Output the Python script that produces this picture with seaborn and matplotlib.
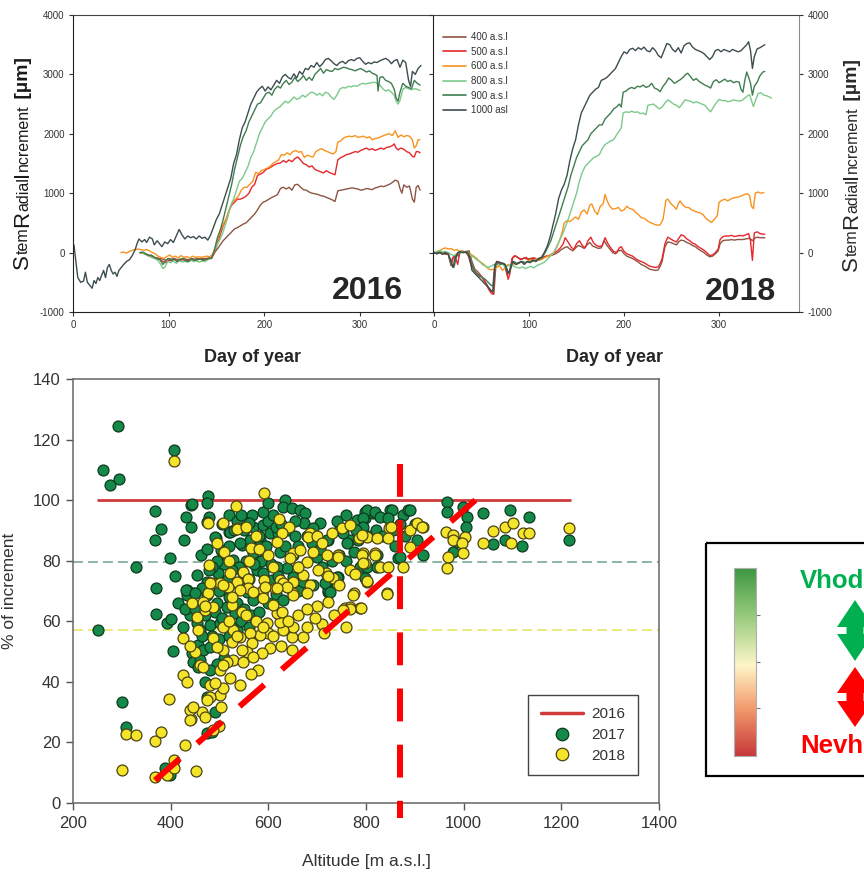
import numpy as np
import pandas as pd
import matplotlib
matplotlib.use("Agg")
import matplotlib.pyplot as plt
import seaborn as sns
from matplotlib.lines import Line2D
from matplotlib.patches import Polygon, Rectangle
from matplotlib.colors import LinearSegmentedColormap

# ---------------------------------------------------------------- data
sites = ["400 a.s.l", "500 a.s.l", "600 a.s.l", "800 a.s.l", "900 a.s.l", "1000 asl"]
site_colors = ["#8c5543", "#e8262b", "#f7931e", "#7cc98a", "#3f7d50", "#3d4d4f"]

# stem radial increment (um) by day of year, 2016
s16_1000 = [(0,50),(1,130),(3,-150),(5,-420),(8,-500),(11,-480),(13,-330),(15,-500),(18,-560),(20,-600),(22,-470),(24,-520),(26,-420),(28,-470),(30,-380),(32,-300),(34,-420),(36,-250),(38,-200),(40,-300),(42,-360),(44,-330),(46,-400),(48,-300),(50,-260),(53,-200),(56,-150),(59,-120),(62,-50),(65,50),(67,150),(69,230),(72,180),(75,220),(77,170),(80,260),(83,230),(85,130),(88,200),(90,160),(93,100),(96,180),(99,150),(102,220),(105,170),(108,280),(111,390),(114,300),(117,230),(120,280),(123,250),(126,270),(129,230),(132,280),(135,240),(138,260),(141,210),(144,300),(147,430),(150,560),(153,650),(156,800),(159,950),(162,1100),(165,1250),(168,1500),(171,1650),(174,1900),(177,2100),(180,2200),(183,2350),(186,2500),(189,2600),(192,2700),(195,2760),(198,2800),(201,2720),(204,2790),(207,2740),(210,2820),(213,2900),(216,2850),(219,2960),(222,3000),(225,2950),(228,2920),(231,3010),(234,2940),(237,3050),(240,3000),(243,3100),(246,3080),(249,3150),(252,3120),(255,3200),(258,3130),(261,3180),(264,3250),(267,3270),(270,3230),(273,3180),(276,3150),(279,3200),(282,3220),(285,3180),(288,3230),(291,3250),(294,3230),(297,3270),(300,3280),(303,3220),(306,3170),(309,3200),(312,3180),(315,3210),(318,3200),(321,3230),(324,3250),(327,3270),(330,3240),(333,3180),(336,3230),(339,3250),(342,3120),(345,3240),(348,3200),(351,2900),(353,2800),(355,3050),(358,3000),(361,3100),(364,3150)]
s16_900 = [(70,0),(73,10),(76,-20),(79,-50),(82,-40),(85,-80),(88,-100),(91,-120),(94,-200),(97,-130),(100,-100),(103,-130),(106,-110),(109,-150),(112,-120),(115,-100),(118,-140),(121,-150),(124,-100),(127,-130),(130,-120),(133,-110),(136,-130),(139,-120),(142,-100),(145,-90),(148,50),(151,250),(154,380),(157,550),(160,750),(163,950),(166,1150),(169,1400),(172,1600),(175,1800),(178,1950),(181,2050),(184,2200),(187,2300),(190,2400),(193,2500),(196,2520),(199,2600),(202,2680),(205,2700),(208,2650),(211,2750),(214,2800),(217,2770),(220,2850),(223,2900),(226,2830),(229,2870),(232,2950),(235,2880),(238,2920),(241,2980),(244,2900),(247,2950),(250,2900),(253,3000),(256,3050),(259,3100),(262,3020),(265,3080),(268,3060),(271,3050),(274,3100),(277,3080),(280,3100),(283,3120),(286,3110),(289,3090),(292,3080),(295,3060),(298,3080),(301,3100),(304,3070),(307,3040),(310,3060),(313,3020),(316,3000),(318,2980),(319,2720),(321,2950),(324,2960),(327,2900),(330,2880),(333,2850),(336,2750),(338,2600),(340,2550),(342,2700),(345,2850),(348,2800),(351,2780),(354,2760),(357,2900),(360,2850),(363,2820)]
s16_800 = [(70,0),(73,-10),(76,-30),(79,-60),(82,-80),(85,-100),(88,-120),(91,-180),(94,-270),(96,-250),(99,-150),(102,-170),(105,-140),(108,-180),(111,-130),(114,-160),(117,-150),(120,-160),(123,-130),(126,-150),(129,-140),(132,-160),(135,-140),(138,-150),(141,-120),(144,-100),(147,0),(150,100),(153,200),(156,300),(159,450),(162,600),(165,800),(168,900),(171,1050),(174,1200),(177,1250),(180,1350),(183,1450),(186,1600),(189,1700),(192,1850),(195,2000),(198,2100),(201,2200),(204,2250),(207,2300),(210,2380),(213,2420),(216,2450),(219,2500),(222,2550),(225,2520),(228,2560),(231,2620),(234,2580),(237,2600),(240,2650),(243,2620),(246,2660),(249,2700),(252,2690),(255,2650),(258,2680),(261,2640),(264,2700),(267,2680),(270,2620),(273,2580),(276,2650),(279,2750),(282,2780),(285,2770),(288,2800),(291,2790),(294,2810),(297,2800),(300,2830),(303,2850),(306,2840),(309,2850),(312,2860),(315,2870),(318,2850),(321,2820),(324,2760),(327,2720),(330,2740),(333,2700),(336,2650),(338,2550),(340,2500),(342,2560),(345,2750),(348,2780),(351,2760),(354,2740),(357,2760),(360,2750),(363,2730)]
s16_600 = [(50,0),(53,10),(56,-10),(59,20),(62,40),(65,50),(68,60),(71,50),(74,40),(77,50),(80,30),(83,0),(86,-20),(89,-60),(92,-80),(95,-100),(98,-70),(101,-40),(104,-80),(107,-60),(110,-90),(113,-50),(116,-80),(119,-70),(122,-90),(125,-60),(128,-80),(131,-70),(134,-80),(137,-70),(140,-60),(143,-70),(146,-30),(149,100),(152,250),(155,400),(158,500),(161,600),(164,750),(167,850),(170,900),(173,950),(176,1050),(179,1100),(182,1100),(185,1150),(188,1200),(191,1350),(194,1330),(197,1380),(200,1400),(203,1420),(206,1450),(209,1500),(212,1530),(215,1560),(218,1650),(221,1640),(224,1680),(227,1650),(230,1700),(233,1720),(236,1690),(239,1700),(242,1600),(245,1640),(248,1620),(251,1610),(254,1700),(257,1730),(260,1750),(263,1720),(266,1700),(269,1680),(272,1660),(275,1700),(277,1860),(280,1880),(283,1930),(286,1950),(289,1960),(292,1950),(295,1970),(298,1940),(301,1950),(304,1960),(307,1930),(310,1950),(313,1900),(316,1920),(319,1930),(322,1950),(325,1970),(328,1990),(331,2000),(334,1970),(337,2050),(340,1940),(343,1980),(346,1950),(349,1970),(352,1960),(355,1900),(357,1760),(359,1800),(361,1900),(363,1900)]
s16_500 = [(70,0),(73,-10),(76,-20),(79,-40),(82,-60),(85,-80),(88,-100),(91,-120),(94,-150),(97,-170),(100,-130),(103,-140),(106,-110),(109,-150),(112,-130),(115,-120),(118,-140),(121,-130),(124,-120),(127,-130),(130,-120),(133,-110),(136,-120),(139,-110),(142,-100),(145,-100),(148,0),(151,150),(154,300),(157,450),(160,550),(163,700),(166,800),(169,850),(172,900),(175,900),(178,920),(181,950),(184,1000),(187,1100),(190,1150),(193,1300),(196,1320),(199,1350),(202,1400),(205,1420),(208,1450),(211,1480),(214,1500),(217,1510),(220,1550),(223,1520),(226,1560),(229,1530),(232,1580),(235,1610),(238,1560),(241,1500),(244,1480),(247,1440),(250,1460),(253,1400),(256,1380),(259,1360),(262,1340),(265,1380),(268,1350),(271,1330),(274,1310),(277,1560),(280,1600),(283,1620),(286,1650),(289,1660),(292,1680),(295,1700),(298,1690),(301,1720),(304,1740),(307,1760),(310,1730),(313,1750),(316,1720),(319,1740),(322,1760),(325,1740),(328,1770),(331,1780),(334,1800),(336,1830),(338,1760),(340,1730),(343,1760),(346,1740),(349,1700),(352,1680),(355,1620),(357,1610),(359,1700),(361,1700),(363,1680)]
s16_400 = [(70,0),(73,-10),(76,-30),(79,-50),(82,-60),(85,-80),(88,-90),(91,-100),(94,-110),(97,-130),(100,-100),(103,-110),(106,-100),(109,-120),(112,-110),(115,-100),(118,-110),(121,-120),(124,-100),(127,-110),(130,-100),(133,-110),(136,-100),(139,-100),(142,-90),(145,-80),(148,0),(151,60),(154,130),(157,200),(160,250),(163,300),(166,350),(169,400),(172,420),(175,450),(178,480),(181,500),(184,550),(187,600),(190,650),(193,720),(196,800),(199,850),(202,870),(205,900),(208,930),(211,950),(214,980),(217,1080),(220,1100),(223,1070),(226,1100),(229,1050),(232,1140),(235,1150),(238,1100),(241,1060),(244,1050),(247,1020),(250,1000),(253,990),(256,980),(259,960),(262,950),(265,930),(268,910),(271,890),(274,860),(277,1040),(280,1050),(283,1060),(286,1070),(289,1080),(292,1090),(295,1080),(298,1070),(301,1050),(304,1060),(307,1080),(310,1070),(313,1060),(316,1090),(319,1100),(322,1120),(325,1110),(328,1130),(331,1150),(334,1180),(337,1220),(340,1200),(342,1080),(344,1000),(346,1140),(349,1100),(352,1120),(355,900),(357,850),(359,1100),(361,1130),(363,1050)]

# stem radial increment (um) by day of year, 2018
s18_1000 = [(0,0),(3,-20),(6,0),(9,-30),(12,0),(15,-20),(18,-150),(20,-250),(22,-100),(25,0),(28,20),(31,0),(34,10),(37,-50),(40,-300),(43,-350),(46,-400),(49,-450),(52,-500),(55,-550),(58,-600),(60,-650),(62,-650),(64,-250),(66,-150),(69,-170),(72,-180),(75,-200),(78,-350),(80,-300),(83,-150),(86,-200),(89,-180),(92,-150),(95,-200),(98,-150),(101,-170),(104,-120),(107,-150),(110,-100),(113,-80),(116,0),(119,100),(122,250),(125,450),(128,650),(131,900),(134,1050),(137,1150),(140,1300),(143,1550),(146,1750),(149,1900),(152,2150),(155,2350),(158,2450),(161,2550),(164,2650),(167,2700),(170,2750),(173,2780),(176,2900),(179,2920),(182,2950),(185,3000),(188,3050),(191,3100),(194,3200),(197,3300),(200,3380),(203,3350),(206,3420),(209,3440),(212,3400),(215,3450),(218,3420),(221,3460),(224,3400),(227,3380),(230,3450),(233,3400),(236,3320),(239,3280),(242,3400),(245,3520),(248,3500),(251,3420),(254,3380),(257,3450),(260,3360),(263,3480),(266,3520),(269,3530),(272,3460),(275,3420),(278,3400),(281,3380),(284,3350),(287,3300),(290,3250),(293,3300),(296,3400),(299,3420),(302,3380),(305,3420),(308,3400),(311,3380),(314,3420),(317,3400),(320,3380),(323,3400),(326,3450),(329,3500),(331,3550),(333,3400),(335,3100),(337,3300),(340,3430),(343,3450),(346,3480),(348,3500)]
s18_900 = [(0,0),(3,-10),(6,10),(9,-20),(12,0),(15,-30),(18,-200),(21,-250),(24,-50),(27,10),(30,0),(33,20),(36,0),(39,-150),(42,-300),(45,-350),(48,-400),(51,-420),(54,-450),(57,-500),(60,-550),(62,-560),(64,-200),(67,-150),(70,-200),(73,-180),(76,-250),(79,-350),(81,-200),(84,-150),(87,-180),(90,-160),(93,-150),(96,-170),(99,-150),(102,-160),(105,-130),(108,-140),(111,-110),(114,-80),(117,0),(120,100),(123,200),(126,350),(129,500),(132,650),(135,800),(138,950),(141,1100),(144,1300),(147,1450),(150,1600),(153,1700),(156,1800),(159,1850),(162,1900),(165,2000),(168,2050),(171,2100),(174,2150),(177,2150),(180,2250),(183,2300),(186,2350),(189,2420),(192,2450),(195,2500),(197,2450),(199,2700),(202,2720),(205,2760),(208,2780),(211,2760),(214,2800),(217,2790),(220,2820),(223,2780),(226,2800),(229,2850),(232,2770),(235,2750),(238,2710),(241,2800),(244,2860),(247,2940),(250,2900),(253,2850),(256,2880),(259,2910),(262,2950),(265,3000),(267,3020),(270,2960),(273,2900),(276,2930),(279,2880),(282,2850),(285,2820),(288,2800),(291,2770),(294,2880),(297,2910),(300,2860),(303,2890),(306,2920),(309,2880),(312,2900),(315,2860),(318,2880),(321,2870),(323,2750),(325,2700),(327,2900),(329,3040),(331,2950),(333,2850),(335,2650),(337,2800),(340,2870),(343,2980),(346,3040),(348,3050)]
s18_800 = [(0,0),(3,20),(6,40),(9,10),(12,20),(15,0),(18,-30),(21,-50),(24,-20),(27,0),(30,20),(33,0),(36,-20),(39,-50),(42,-80),(45,-120),(48,-150),(51,-200),(54,-230),(57,-250),(60,-230),(63,-200),(66,-220),(69,-200),(72,-180),(75,-250),(78,-220),(81,-200),(84,-230),(87,-250),(90,-260),(93,-240),(96,-270),(99,-250),(102,-230),(105,-260),(108,-220),(111,-200),(114,-180),(117,-150),(120,-100),(123,-50),(126,0),(129,100),(132,200),(135,300),(138,420),(141,550),(144,700),(147,850),(150,1000),(153,1200),(156,1350),(159,1450),(162,1500),(165,1550),(168,1600),(171,1620),(174,1650),(177,1750),(180,1820),(183,1850),(186,1880),(189,1900),(192,1980),(195,2050),(197,2100),(199,2350),(202,2370),(205,2360),(208,2380),(211,2360),(214,2370),(217,2340),(220,2350),(223,2320),(225,2480),(228,2490),(231,2500),(234,2460),(237,2420),(240,2450),(243,2520),(246,2570),(249,2540),(252,2500),(255,2480),(258,2440),(261,2500),(264,2570),(267,2560),(270,2550),(273,2520),(276,2540),(279,2520),(282,2500),(285,2480),(288,2420),(291,2370),(294,2450),(297,2520),(300,2580),(303,2560),(306,2560),(309,2540),(312,2550),(315,2570),(318,2560),(321,2550),(324,2560),(327,2600),(330,2640),(332,2660),(334,2560),(336,2460),(338,2550),(341,2680),(344,2690),(347,2650),(350,2640),(353,2620),(355,2600)]
s18_600 = [(0,0),(3,10),(6,30),(9,60),(12,80),(15,60),(18,70),(21,40),(24,50),(27,20),(30,30),(33,10),(36,0),(39,-30),(42,-60),(45,-100),(48,-150),(51,-180),(54,-220),(57,-270),(60,-290),(63,-280),(66,-250),(69,-220),(72,-300),(75,-250),(78,-200),(81,-230),(84,-180),(87,-200),(90,-170),(93,-150),(96,-180),(99,-140),(102,-120),(105,-150),(108,-100),(111,-130),(114,-110),(117,-80),(120,-60),(123,-30),(126,0),(129,80),(132,200),(135,350),(137,500),(140,540),(143,520),(146,560),(149,600),(152,560),(155,680),(158,720),(161,650),(164,800),(166,820),(169,700),(172,640),(175,780),(178,820),(180,980),(182,880),(185,780),(188,730),(191,740),(194,760),(197,700),(200,720),(203,780),(206,740),(209,730),(212,680),(215,640),(218,590),(221,580),(224,540),(227,510),(230,490),(233,470),(236,460),(238,470),(241,560),(244,880),(246,900),(249,830),(252,780),(255,730),(257,820),(259,870),(262,800),(265,760),(268,760),(271,720),(274,700),(277,680),(280,670),(283,640),(286,580),(289,540),(292,510),(295,560),(298,620),(300,850),(303,880),(306,900),(309,870),(312,900),(315,920),(318,930),(321,940),(324,960),(327,980),(330,990),(332,960),(334,780),(336,740),(338,1000),(341,1020),(344,1000),(347,1010)]
s18_500 = [(0,0),(3,-20),(6,10),(9,0),(12,-30),(15,-20),(18,-220),(20,-100),(22,-50),(25,-200),(27,0),(30,20),(33,10),(36,-50),(39,-200),(42,-300),(45,-350),(48,-380),(51,-420),(54,-500),(57,-600),(60,-680),(62,-700),(64,-300),(66,-150),(69,-160),(72,-180),(75,-200),(78,-450),(80,-350),(82,-100),(85,-50),(88,-80),(91,-120),(94,-100),(97,-80),(100,-130),(103,-100),(106,-90),(109,-120),(112,-100),(115,-80),(118,-60),(121,-50),(124,-30),(127,0),(130,30),(133,80),(136,150),(138,250),(141,180),(144,100),(147,50),(150,150),(153,200),(156,120),(159,80),(162,200),(165,260),(168,160),(171,120),(174,100),(177,120),(180,250),(183,150),(186,80),(189,20),(192,0),(195,80),(197,100),(200,20),(203,-20),(206,-40),(209,-60),(212,-100),(215,-130),(218,-150),(221,-170),(224,-200),(227,-230),(230,-240),(233,-250),(236,-240),(238,-180),(240,-100),(243,150),(246,260),(249,230),(252,200),(255,180),(258,250),(260,300),(263,280),(266,230),(269,200),(272,160),(275,140),(278,100),(281,70),(284,40),(287,0),(290,-50),(293,-40),(296,0),(299,60),(301,220),(304,270),(307,280),(310,280),(313,290),(316,270),(319,280),(322,290),(325,280),(328,300),(331,320),(333,200),(335,-130),(337,330),(340,350),(343,320),(346,310),(348,310)]
s18_400 = [(0,0),(3,-10),(6,0),(9,-20),(12,-10),(15,-30),(18,-150),(20,-80),(23,-40),(26,-60),(28,10),(31,0),(34,20),(37,30),(40,-150),(43,-280),(46,-320),(49,-380),(52,-450),(55,-520),(58,-600),(61,-650),(63,-700),(65,-250),(68,-160),(71,-180),(74,-200),(77,-380),(80,-300),(83,-80),(86,-60),(89,-90),(92,-110),(95,-90),(98,-110),(101,-100),(104,-90),(107,-110),(110,-100),(113,-90),(116,-70),(119,-60),(122,-50),(125,-40),(128,-20),(131,10),(134,50),(137,80),(140,100),(143,60),(146,30),(149,80),(152,120),(155,100),(158,70),(161,130),(164,170),(167,110),(170,90),(173,70),(176,80),(179,200),(182,120),(185,60),(188,0),(191,-20),(194,30),(197,40),(200,-20),(203,-60),(206,-80),(209,-100),(212,-130),(215,-160),(218,-200),(221,-220),(224,-250),(227,-280),(230,-290),(233,-300),(236,-290),(238,-230),(240,-150),(243,100),(246,180),(249,170),(252,150),(255,130),(258,190),(260,210),(263,200),(266,170),(269,150),(272,120),(275,100),(278,60),(281,30),(284,0),(287,-40),(290,-70),(293,-60),(296,-20),(299,30),(301,150),(304,200),(307,210),(310,210),(313,220),(316,210),(319,220),(322,220),(325,220),(328,230),(331,240),(333,230),(335,200),(337,240),(340,260),(343,250),(346,250),(348,250)]

series_2016 = [s16_400, s16_500, s16_600, s16_800, s16_900, s16_1000]
series_2018 = [s18_400, s18_500, s18_600, s18_800, s18_900, s18_1000]

# % of increment vs altitude (m a.s.l.)
pts_2017 = [(251,57),(261,110),(276,105),(292,124.5),(294,107),(300,33.4),(308,25),(329,78),(368,96.4),(381,90.5),(368,86.8),(398,81),(409,75),(370,71),(370,62.4),(393,59.4),(400,60.7),(405,50.2),(407,116.5),(388,11.6),(399,9.2),(474,23.1),(484,23.4),
    (477,101.3),(474,99),(442,98.4),(431,94.4),(442,91),(479,94.4),(474,92.8),(428,86.8),(462,81.9),(474,83.9),(493,87.5),(503,83.5),(519,89.5),(546,85.2),(567,95),(569,91),(589,91.8),(604,89.1),(634,100),(630,97.7),(648,97.4),(665,96.7),(675,95.7),(673,92.4),(706,92.4),(692,90.8),(722,86.8),(444,98.7),(491,87.8),(522,89.5),(562,86.8),(583,86.8),(620,89.1),(569,82.5),(593,81.2),(624,82.9),(638,77.6),(618,78),(542,85.8),(528,80.2),(507,81.2),(577,76.9),(548,75.9),(497,75.9),(515,73.6),(474,73),(454,75.3),(464,71),(434,70.3),(446,69.3),(608,73.6),(651,74.6),(671,73),(700,81.2),(722,73.6),(747,90.8),(767,86.8),(784,86.8),(798,94),(798,96),(815,95.7),(782,93.4),(720,72.6),(692,72),
    (415,66),(433,68.7),(431,70.3),(450,69.3),(474,68.7),(495,66),(515,64.7),(532,62.7),(454,59.4),(460,57.1),(481,58.8),(501,59.4),(526,58.1),(456,52.2),(466,50.5),(481,51.5),(444,49.5),(446,46.5),(460,47.2),(556,69.7),(569,67),(587,68.7),(722,69.7),
    (802,96.7),(819,96),(850,96.7),(829,94.4),(794,94),(876,95),(886,96.7),(794,91),(753,89.1),(788,78),(802,78),(823,78),(866,81),(917,81.9),(743,74.6),(722,70.3),(716,72.6),
    (966,99.4),(966,96),(999,97.7),(1007,94.4),(1005,91),(1040,95.7),(1060,85.5),(1095,96.7),(1085,86.8),(1134,94.4),(1120,84.8),(1216,87),(978,82.9),(986,86.2),(890,96.7),(870,81.2),(853,96.7),(761,85.8),(720,86.8),(727,69.6),(740,74.6),(798,74.3),(822,81.9),(845,94),
    (505,92),(520,95),(535,93),(550,90),(560,92.5),(580,88),(600,93),(610,95),(615,91),(625,92),(640,90),(655,88),(660,85),(680,88),(650,82),(635,85),(595,85),(585,80),(570,79),(555,80),(540,78),(525,77),(510,79),(495,80),(485,78),(478,77),(500,70),(520,68),(535,66),(550,64),(565,62),(580,63),(600,66),(615,69),(630,67),(645,71),(660,70),(540,72),(560,74),(590,76),(605,79),(620,75),(490,63),(505,61),(470,62),(485,55),(500,54),(520,55),(535,57),(545,60),(560,58),(510,48),(495,46),(480,44),(470,40),(475,35),(490,30),(455,45),(465,55),(440,62),(430,64),(450,64),(425,58),(520,85),(530,90),(545,95),(590,96),(600,99),(655,93),(690,86),(705,84),(710,78),(730,80),(745,82),(760,80),(775,83),(740,93),(760,95),(780,90),(805,88),(820,90),(835,88),(855,90),(860,85),(880,88),(900,92),(905,87),(870,92)]

pts_2018 = [(407,113),(591,102.3),(300,11),(308,22.8),(329,22.5),(368,20.5),(381,23.4),(397,34.3),(368,8.6),(393,9.2),(407,14.2),(407,11.6),(430,19.1),(452,10.6),(499,25.5),(487,24),(442,27.7),(440,30.7),
    (534,98),(477,92.4),(507,92.4),(536,90.8),(479,78.6),(622,93.8),(643,91.1),(628,89.1),(618,86.2),(565,84.2),(651,82.5),(665,83.5),(686,89.1),(692,82.9),(644,80.9),(679,79.6),(720,81.9),(743,81.9),(751,90.8),(767,91.8),(786,87.5),(802,87.8),(819,82.5),(794,82.5),(798,79.2),(802,73),(778,75.9),(776,69.3),(718,75.9),(733,74.3),(522,75.9),(548,76.3),(591,73.6),(624,73.6),(651,73),(671,75.3),(686,72),(536,73),(558,74),(558,71),(589,70.3),(614,71),(630,72.6),(651,69.3),(679,69.3),(485,72.6),(501,72.6),(517,71.3),(477,69.3),(535,90.5),(682,87.8),(792,88.5),(823,87.5),(848,90.8),(845,87.5),(890,90.1),(904,92.4),(917,91.1),(890,84.5),(792,81.9),(819,81.9),(794,79.2),(829,78),(845,78),(876,78),(743,81.2),(767,76.9),(778,75.6),(802,73.3),(843,69.3),(774,68.7),(788,64.4),(722,74.9),(702,76.9),(757,64.4),(767,64.7),
    (964,89.5),(978,88.5),(1003,87.8),(978,86.8),(997,85.8),(999,82.5),(968,81.2),(966,77.6),(1060,89.8),(1085,91.1),(1101,92.4),(1122,89.1),(1134,89.1),(1040,85.8),(1097,85.8),(1216,90.8),(915,91.1),(851,91.1),
    (843,69),(790,64.4),(767,64),(753,63.7),(722,66.4),(700,65),(710,59),(714,56.1),(679,58.1),(671,54.8),(649,54.8),(649,50.5),(651,58.1),(630,57.1),(624,59.8),(618,62.7),(597,59.4),(599,56.1),(604,51.2),(587,49.5),(583,55.5),(562,56.1),(567,52.8),(556,49.9),(546,50.5),(542,54.8),(528,57.1),(526,53.2),(507,50.5),(528,47.2),(548,46.5),(569,48.2),(579,43.9),(565,42.6),(515,46.5),(501,43.9),(507,45.6),(522,41.3),(542,39),(501,35.7),(481,35),(481,39),(507,38),(491,39.6),(474,34),(464,30),(446,31.7),(470,28.4),(440,27.4),(503,31.7),(425,42.3),(433,39.9),(460,45.6),(450,49.9),(466,44.9),(487,54.5),(495,51.5),(507,58.1),(425,54.5),(454,61.4),(470,63.7),(487,64.7),(444,66),(466,66.4),(526,65.4),(546,63),(569,69.7),(589,67.7),(610,65.4),(628,63),(651,68.7),(638,71.3),(618,71),(593,71.3),(542,70.3),(526,68),(507,72),(481,72.6),
    (560,80),(580,84),(600,82),(610,78),(575,88),(555,91),(510,83),(495,86),(520,80),(660,78),(700,88),(710,86),(730,89),(470,65),(455,57),(440,52),(520,60),(535,55),(555,62),(575,60),(590,58),(610,55),(625,52),(640,60),(660,62),(680,64),(695,61),(735,62),(760,58),(745,72)]

ref_2016 = 100.0           # 2016 taken as 100 %
ref_2016_span = [250, 1220]
mean_2017 = 79.5
mean_2018 = 57.0
limit_alt = 870            # altitude limit
limit_span = [112, -5]
trend_alt = [368, 1024]
trend_pct = [7.5, 100]

# ---------------------------------------------------------------- style
sns.set_style("white")
plt.rcParams["font.family"] = ["Liberation Sans", "DejaVu Sans"]
plt.rcParams["axes.linewidth"] = 0.8
plt.rcParams["axes.unicode_minus"] = False

W, H = 864, 872
fig = plt.figure(figsize=(W / 100, H / 100), dpi=100)


def fx(px):
    return px / W


def fy(py):
    return 1 - py / H


def box(l, t, r, b):
    return [fx(l), fy(b), (r - l) / W, (b - t) / H]


def long_frame(series_list):
    frames = []
    for name, s in zip(sites, series_list):
        d = np.array(s, dtype=float)
        frames.append(pd.DataFrame({"day": d[:, 0], "value": d[:, 1], "site": name}))
    return pd.concat(frames, ignore_index=True)


pal = dict(zip(sites, site_colors))

# ---------------------------------------------------------------- 2016 panel
ax1 = fig.add_axes(box(73, 15, 432, 312))
sns.lineplot(data=long_frame(series_2016), x="day", y="value", hue="site", hue_order=sites,
             palette=pal, estimator=None, sort=False, lw=1.0, legend=False, ax=ax1)
ax1.set_xlim(0, 375.5)
ax1.set_ylim(-1000, 4000)
ax1.set_xticks([0, 100, 200, 300])
ax1.set_yticks(range(-1000, 4001, 1000))
ax1.set_xlabel("")
ax1.set_ylabel("")
ax1.spines["right"].set_visible(False)
for sp in ["left", "bottom"]:
    ax1.spines[sp].set_color("#222222")
ax1.spines["top"].set_color("#444444")
ax1.tick_params(axis="both", direction="out", length=3, width=0.8, pad=3,
                labelsize=7, labelcolor="#333333", color="#333333",
                left=True, bottom=True)

# ---------------------------------------------------------------- 2018 panel
ax2 = fig.add_axes(box(433, 15, 799, 312))
sns.lineplot(data=long_frame(series_2018), x="day", y="value", hue="site", hue_order=sites,
             palette=pal, estimator=None, sort=False, lw=1.0, legend=False, ax=ax2)
ax2.set_xlim(-1, 384)
ax2.set_ylim(-1000, 4000)
ax2.set_xticks([0, 100, 200, 300])
ax2.set_yticks(range(-1000, 4001, 1000))
ax2.set_xlabel("")
ax2.set_ylabel("")
ax2.spines["left"].set_color("#222222")
ax2.spines["bottom"].set_color("#222222")
ax2.spines["top"].set_color("#444444")
ax2.spines["right"].set_color("#8a8a8a")
ax2.tick_params(axis="both", direction="out", length=3, width=0.8, pad=3,
                labelsize=7, labelcolor="#333333", color="#333333", bottom=True)
ax2.tick_params(axis="y", left=True, right=True, labelleft=False, labelright=True)

handles = [Line2D([], [], color=c, lw=1.2) for c in site_colors]
fig.legend(handles, sites, loc="upper left", bbox_to_anchor=(fx(443), fy(32)),
           frameon=False, fontsize=7, handlelength=2.4, handletextpad=0.5,
           labelspacing=0.48, borderpad=0, borderaxespad=0, labelcolor="#333333")

fig.text(fx(252), fy(357), "Day of year", ha="center", va="center", fontsize=13, fontweight="bold")
fig.text(fx(615), fy(357), "Day of year", ha="center", va="center", fontsize=13, fontweight="bold")
fig.text(fx(367), fy(291), "2016", ha="center", va="center", fontsize=23, fontweight="bold")
fig.text(fx(741), fy(292), "2018", ha="center", va="center", fontsize=23, fontweight="bold")

label_pieces = [("S", 16, "normal"), ("tem", 11.5, "normal"), ("R", 16, "normal"),
                ("adial", 11.5, "normal"), ("I", 16, "normal"), ("ncrement", 11.5, "normal"),
                (" [\u00b5m]", 14, "bold")]


def mixed_label(x_px, yc_px, color):
    renderer = fig.canvas.get_renderer()
    parts = []
    for s, size, weight in label_pieces:
        parts.append(fig.text(fx(x_px), 0.5, s, fontsize=size, fontweight=weight, color=color,
                              rotation=90, rotation_mode="anchor", ha="left", va="baseline"))
    lengths = [t.get_window_extent(renderer).height for t in parts]
    y = (H - yc_px) - sum(lengths) / 2
    for t, L in zip(parts, lengths):
        t.set_y(y / H)
        y += L


mixed_label(28, 163, "#1a1a1a")
mixed_label(857, 165, "#2a2a2a")

# ---------------------------------------------------------------- scatter panel
ax3 = fig.add_axes(box(73, 379, 659, 803))
ax3.axhline(mean_2017, color="#6aa48c", lw=1.1, dashes=(6.5, 3.3), zorder=1)
ax3.axhline(mean_2018, color="#e4e45a", lw=1.1, dashes=(6.5, 3.3), zorder=1)
ax3.hlines(ref_2016, ref_2016_span[0], ref_2016_span[1], color="#cf3b3b", lw=2.0, zorder=2)

g17 = np.array(pts_2017, dtype=float)
g18 = np.array(pts_2018, dtype=float)
sns.scatterplot(x=g17[:, 0], y=g17[:, 1], ax=ax3, s=62, color="#15894a",
                edgecolor="#0b3a1c", linewidth=0.9, zorder=3, legend=False)
sns.scatterplot(x=g18[:, 0], y=g18[:, 1], ax=ax3, s=62, color="#f4e52a",
                edgecolor="#4a4210", linewidth=0.9, zorder=4, legend=False)

ax3.plot(trend_alt, trend_pct, color="#ff0000", lw=4.3, dashes=(5.5, 3.9),
         solid_capstyle="butt", zorder=6)
ax3.plot([limit_alt, limit_alt], limit_span, color="#ff0000", lw=4.3, dashes=(5.5, 3.9),
         zorder=6, clip_on=False)

ax3.set_xlim(200, 1400)
ax3.set_ylim(0, 140)
ax3.set_xticks(range(200, 1401, 200))
ax3.set_yticks(range(0, 141, 20))
ax3.set_xlabel("")
ax3.set_ylabel("")
for sp in ax3.spines.values():
    sp.set_color("#666666")
    sp.set_linewidth(1.1)
ax3.tick_params(axis="both", direction="out", length=5, width=1, pad=4,
                labelsize=12, labelcolor="#333333", color="#555555", left=True, bottom=True)

leg_handles = [Line2D([], [], color="#cf3b3b", lw=2.5),
               Line2D([], [], ls="", marker="o", ms=9, mfc="#15894a", mec="#0b3a1c", mew=0.9),
               Line2D([], [], ls="", marker="o", ms=9, mfc="#f4e52a", mec="#4a4210", mew=0.9)]
ax3.legend(leg_handles, ["2016", "2017", "2018"], loc="lower right",
           bbox_to_anchor=(0.964, 0.066), borderaxespad=0, fontsize=11, frameon=True,
           fancybox=False, edgecolor="#444444", framealpha=1, handlelength=2.8,
           handletextpad=0.55, labelspacing=0.45, borderpad=0.8, labelcolor="#333333")

fig.text(fx(14), fy(591), "% of increment", rotation=90, rotation_mode="anchor",
         ha="center", va="baseline", fontsize=12.5, color="#333333")
fig.text(fx(366), fy(861), "Altitude [m a.s.l.]", ha="center", va="center",
         fontsize=12.5, color="#333333")

# ---------------------------------------------------------------- suitability key
ov = fig.add_axes([0, 0, 1, 1])
ov.set_xlim(0, W)
ov.set_ylim(H, 0)
ov.axis("off")
ov.set_zorder(5)
ov.add_patch(Rectangle((706, 543), 200, 233, fill=False, edgecolor="black", lw=1.6))


def double_arrow(cx, top, bottom, color, head=27, half_head=18, half_shaft=8.5):
    pts = [(cx, top), (cx + half_head, top + head), (cx + half_shaft, top + head),
           (cx + half_shaft, bottom - head), (cx + half_head, bottom - head), (cx, bottom),
           (cx - half_head, bottom - head), (cx - half_shaft, bottom - head),
           (cx - half_shaft, top + head), (cx - half_head, top + head)]
    ov.add_patch(Polygon(pts, closed=True, facecolor=color, edgecolor="none"))


double_arrow(855, 600, 661, "#00b050")
double_arrow(855, 667, 727, "#ff0000", head=26)
ov.text(800, 581, "Vhod", color="#00b050", fontsize=18.5, fontweight="bold", ha="left", va="center")
ov.text(800, 746, "Nevh", color="#ff0000", fontsize=18.5, fontweight="bold", ha="left", va="center")

cmap = LinearSegmentedColormap.from_list(
    "suit", [(0.0, "#c8383a"), (0.25, "#f29a6c"), (0.48, "#fff6c8"),
             (0.75, "#93c97a"), (1.0, "#3c963f")])
cax = fig.add_axes(box(734, 568, 756, 756))
cax.set_zorder(6)
cax.imshow(np.linspace(1, 0, 256)[:, None], aspect="auto", cmap=cmap, extent=(0, 1, 0, 1))
cax.set_xticks([])
cax.set_yticks([0.255, 0.5, 0.75])
cax.yaxis.tick_right()
cax.tick_params(axis="y", length=3, width=0.8, color="#777777", labelright=False)
for sp in cax.spines.values():
    sp.set_color("#b0b0b0")
    sp.set_linewidth(0.8)

fig.savefig("out.png", dpi=100)
